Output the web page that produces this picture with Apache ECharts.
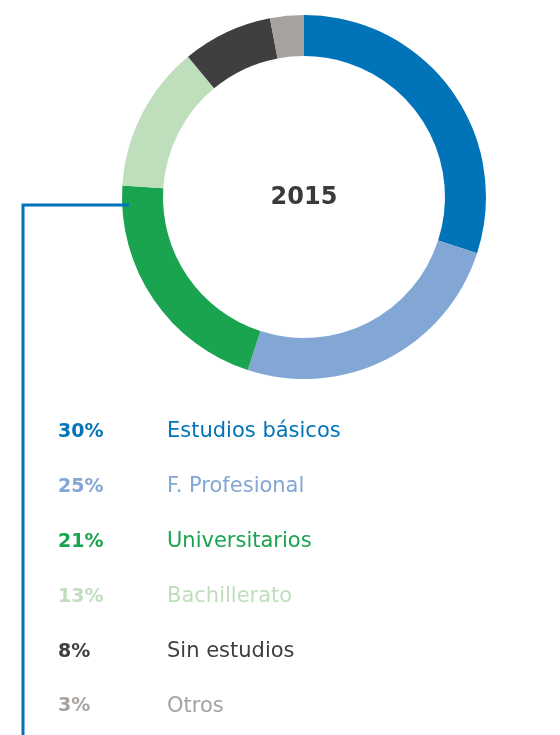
<!DOCTYPE html>
<html lang="es">
    <head>
        <title>2015</title>
        <meta charset="utf-8">
        <script src='https://cdn.jsdelivr.net/npm/echarts@6/dist/echarts.min.js'></script>
    </head>

    <style>
        html, body, #main {
            width: 100%;
            height: 100%;
            margin: 0;
            background: #fff;
        }
    </style>

    <body>
        <div id='main'></div>

        <script>
            const categories = ['Estudios básicos', 'F. Profesional', 'Universitarios', 'Bachillerato', 'Sin estudios', 'Otros'];
            const values = [30, 25, 21, 13, 8, 3];
            const colors = ['#0173b9', '#82a7d4', '#1ba450', '#bedebc', '#3f3f41', '#a6a29f'];
            const year = '2015';

            const chart = echarts.init(document.getElementById('main'));

            const data = categories.map((name, i) => ({
                name: name,
                value: values[i],
                itemStyle: { color: colors[i] }
            }));

            const option = {
                animation: false,
                legend: {
                    orient: 'vertical',
                    left: 53,
                    top: 420,
                    padding: 0,
                    icon: 'none',
                    itemWidth: 0,
                    itemHeight: 24,
                    itemGap: 32.4,
                    selectedMode: false,
                    data: categories.map((name, i) => ({
                        name: name,
                        textStyle: { color: colors[i] }
                    })),
                    formatter: function (name) {
                        const i = categories.indexOf(name);
                        return '{p|' + values[i] + '%}{n|' + name + '}';
                    },
                    textStyle: {
                        padding: 0,
                        rich: {
                            p: {
                                width: 109,
                                fontFamily: 'DejaVu Sans',
                                fontWeight: 'bold',
                                fontSize: 19
                            },
                            n: {
                                fontFamily: 'DejaVu Sans',
                                fontSize: 21
                            }
                        }
                    }
                },
                graphic: [
                    {
                        type: 'text',
                        x: 304,
                        y: 198,
                        style: {
                            text: year,
                            fill: '#3a3a3c',
                            fontFamily: 'DejaVu Sans',
                            fontWeight: 'bold',
                            fontSize: 24,
                            align: 'center',
                            verticalAlign: 'middle'
                        }
                    },
                    {
                        type: 'polyline',
                        z: 10,
                        shape: { points: [[129, 205], [23, 205], [23, 735]] },
                        style: { stroke: '#0173b9', lineWidth: 3, fill: null }
                    }
                ],
                series: [ {
                    type: 'pie',
                    center: [304, 197],
                    radius: [141, 182],
                    startAngle: 90,
                    clockwise: true,
                    label: { show: false },
                    labelLine: { show: false },
                    emphasis: { disabled: true },
                    data: data
                } ]
            };

            chart.setOption(option);

            window.onresize = function () {
                chart.resize();
            }
        </script>
    </body>
</html>
